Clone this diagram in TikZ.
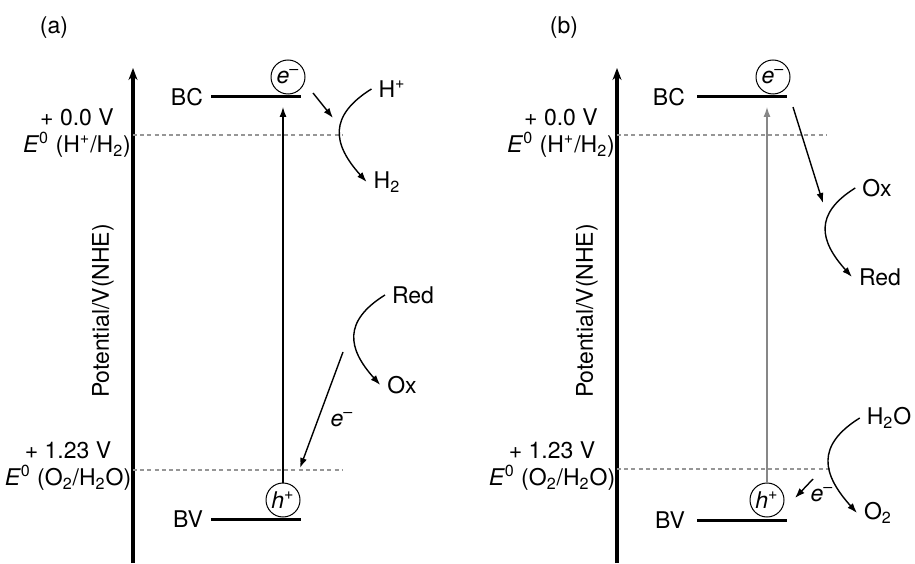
\documentclass[tikz,border=0pt]{standalone}
\usepackage{fontspec}
\setmainfont{TeX Gyre Heros}
\usetikzlibrary{arrows.meta}
\definecolor{refgray}{RGB}{150,150,150}
\definecolor{excgray}{RGB}{135,135,135}

\begin{document}
\begin{tikzpicture}[x=0.5pt, y=0.5pt,
    font=\fontsize{11.5}{13.5}\selectfont,
    potaxis/.style={line width=2pt, -{Stealth[length=6pt, width=4.5pt]}},
    band/.style={line width=1.5pt},
    eref/.style={refgray, line width=0.7pt, dash pattern=on 2pt off 1.6pt},
    potlabel/.style={align=center, inner sep=0pt},
    carrier/.style={circle, draw, line width=0.5pt, minimum size=17pt, inner sep=0pt},
    flow/.style={line width=0.7pt, -{Latex[length=5pt, width=3.5pt]}},
    redox/.style={flow, out=212, in=132, looseness=1.4},
    excite/.style={line width=0.6pt, -{Latex[length=5pt, width=3.5pt]}}
  ]
  \useasboundingbox (0,0) rectangle (915,563);

  % Panel (a)
  \node (taga) at (54,535) {(a)};
  \coordinate (axbota) at (133,0);
  \coordinate (axtopa) at (133,495);
  \draw[potaxis] (axbota) -- (axtopa);
  \node[rotate=90] (ylaba) at (103,252) {Potential/V(NHE)};
  \draw[eref] (133,428) -- (342,428);
  \draw[eref] (133,93) -- (342,93);
  \node[potlabel] (hrefa) at (77,430) {+ 0.0 V\\\textit{E}\textsuperscript{0} (H\textsuperscript{+}/H\textsubscript{2})};
  \node[potlabel] (orefa) at (68,97) {+ 1.23 V\\\textit{E}\textsuperscript{0} (O\textsubscript{2}/H\textsubscript{2}O)};
  \draw[band] (211,466) -- (301,466);
  \draw[band] (211,44) -- (301,44);
  \node[anchor=east] (bca) at (210,466) {BC};
  \node[anchor=east] (bva) at (210,44) {BV};
  \node[carrier] (eleca) at (288,486) {\textit{e}\textsuperscript{--}};
  \node[carrier] (holea) at (283,63) {\textit{h}\textsuperscript{+}};
  \coordinate (cbtipa) at (283,456);
  \draw[excite] (holea.north) -- (cbtipa);
  \coordinate (outa) at (313,470);
  \coordinate (ina) at (333,445);
  \draw[flow] (outa) -- (ina);
  \node (hplus) at (392,474) {H\textsuperscript{+}};
  \node (htwo) at (387,381) {H\textsubscript{2}};
  \draw[redox] (hplus.west) to (htwo.west);
  \node (reda) at (413,268) {Red};
  \node (oxa) at (402,178) {Ox};
  \draw[redox] (reda.west) to (oxa.west);
  \coordinate (donora) at (343,211);
  \coordinate (vbtipa) at (300,95);
  \draw[flow] (donora) -- (vbtipa);
  \node (elaba) at (342,143) {\textit{e}\textsuperscript{--}};

  % Panel (b)
  \node (tagb) at (564,535) {(b)};
  \coordinate (axbotb) at (617,0);
  \coordinate (axtopb) at (617,495);
  \draw[potaxis] (axbotb) -- (axtopb);
  \node[rotate=90] (ylabb) at (587,252) {Potential/V(NHE)};
  \draw[eref] (617,428) -- (826,428);
  \draw[eref] (617,94) -- (830,94);
  \node[potlabel] (hrefb) at (561,430) {+ 0.0 V\\\textit{E}\textsuperscript{0} (H\textsuperscript{+}/H\textsubscript{2})};
  \node[potlabel] (orefb) at (552,97) {+ 1.23 V\\\textit{E}\textsuperscript{0} (O\textsubscript{2}/H\textsubscript{2}O)};
  \draw[band] (697,466) -- (787,466);
  \draw[band] (697,43) -- (787,43);
  \node[anchor=east] (bcb) at (692,466) {BC};
  \node[anchor=east] (bvb) at (692,43) {BV};
  \node[carrier] (elecb) at (773,486) {\textit{e}\textsuperscript{--}};
  \node[carrier] (holeb) at (767,63) {\textit{h}\textsuperscript{+}};
  \coordinate (cbtipb) at (767,456);
  \draw[excite, excgray] (holeb.north) -- (cbtipb);
  \coordinate (outb) at (793,456);
  \coordinate (inb) at (823,360);
  \draw[flow] (outb) -- (inb);
  \node (oxb) at (877,375) {Ox};
  \node (redb) at (880,286) {Red};
  \draw[redox] (oxb.west) to (redb.west);
  \node (water) at (889,145) {H\textsubscript{2}O};
  \node (otwo) at (878,50) {O\textsubscript{2}};
  \draw[redox] (water.west) to (otwo.west);
  \coordinate (donorb) at (813,84);
  \coordinate (vbtipb) at (795,65);
  \draw[flow] (donorb) -- (vbtipb);
  \node (elabb) at (822,68) {\textit{e}\textsuperscript{--}};
\end{tikzpicture}
\end{document}
